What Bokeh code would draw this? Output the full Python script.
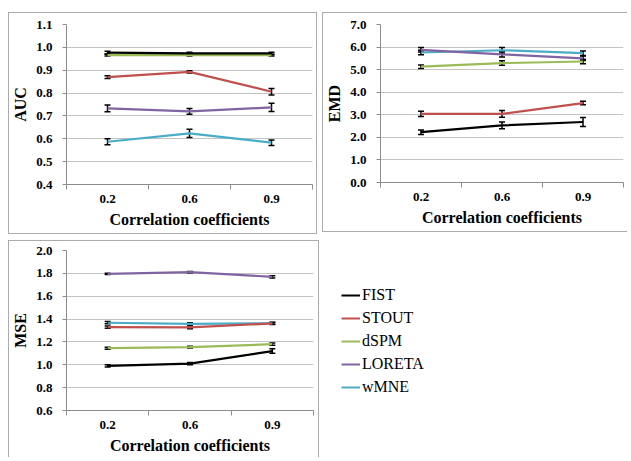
from bokeh.plotting import figure
from bokeh.layouts import column, row
from bokeh.models import (ColumnDataSource, Whisker, TeeHead, FixedTicker, Spacer,
                          PrintfTickFormatter, Legend, LegendItem, Range1d)
from bokeh.embed import file_html
from bokeh.resources import INLINE

# ---------------- data ----------------
corr = ["0.2", "0.6", "0.9"]
methods = ["FIST", "STOUT", "dSPM", "LORETA", "wMNE"]
colors = ["#000000", "#c0504d", "#9bbb59", "#8064a2", "#4bacc6"]

auc_fist = [0.977, 0.974, 0.974]
auc_stout = [0.870, 0.893, 0.806]
auc_dspm = [0.966, 0.966, 0.966]
auc_loreta = [0.733, 0.720, 0.737]
auc_wmne = [0.587, 0.624, 0.583]
auc_err_fist = [0.006, 0.005, 0.005]
auc_err_stout = [0.006, 0.005, 0.014]
auc_err_dspm = [0.004, 0.004, 0.004]
auc_err_loreta = [0.015, 0.013, 0.018]
auc_err_wmne = [0.013, 0.018, 0.012]

emd_fist = [2.23, 2.53, 2.68]
emd_stout = [3.04, 3.04, 3.52]
emd_dspm = [5.13, 5.29, 5.36]
emd_loreta = [5.88, 5.68, 5.50]
emd_wmne = [5.76, 5.86, 5.73]
emd_err_fist = [0.10, 0.15, 0.20]
emd_err_stout = [0.12, 0.15, 0.08]
emd_err_dspm = [0.08, 0.10, 0.10]
emd_err_loreta = [0.10, 0.12, 0.10]
emd_err_wmne = [0.10, 0.12, 0.10]

mse_fist = [0.990, 1.010, 1.120]
mse_stout = [1.330, 1.327, 1.362]
mse_dspm = [1.145, 1.155, 1.180]
mse_loreta = [1.795, 1.810, 1.770]
mse_wmne = [1.368, 1.358, 1.363]
mse_err_fist = [0.010, 0.010, 0.020]
mse_err_stout = [0.010, 0.012, 0.010]
mse_err_dspm = [0.008, 0.008, 0.010]
mse_err_loreta = [0.006, 0.007, 0.010]
mse_err_wmne = [0.010, 0.010, 0.008]

auc_ticks = [0.4, 0.5, 0.6, 0.7, 0.8, 0.9, 1.0, 1.1]
emd_ticks = [0.0, 1.0, 2.0, 3.0, 4.0, 5.0, 6.0, 7.0]
mse_ticks = [0.6, 0.8, 1.0, 1.2, 1.4, 1.6, 1.8, 2.0]

# ---------------- styling ----------------
SERIF = "Liberation Serif"
GRID = "#c4c4c4"
AXIS = "#8c8c8c"
BORDER = "#ababab"

xpos = [i + 0.5 for i in range(len(corr))]


def make_panel(title, ticks, series, errors, width, height, mlb, mrb, mtb, mbb, border):
    p = figure(width=width, height=height, output_backend="svg", toolbar_location=None,
               x_range=Range1d(0, len(corr)), y_range=Range1d(ticks[0], ticks[-1]),
               min_border_left=mlb, min_border_right=mrb, min_border_top=mtb,
               min_border_bottom=mbb)
    p.styles = border
    p.outline_line_color = None
    p.background_fill_color = "white"
    p.border_fill_color = "white"
    p.xgrid.visible = False
    p.ygrid.grid_line_color = GRID
    p.ygrid.grid_line_width = 1

    p.yaxis.ticker = FixedTicker(ticks=ticks)
    p.yaxis.formatter = PrintfTickFormatter(format="%.1f")
    p.xaxis.ticker = FixedTicker(ticks=xpos, minor_ticks=list(range(len(corr) + 1)))
    p.xaxis.major_label_overrides = {x: c for x, c in zip(xpos, corr)}
    for ax in (p.xaxis, p.yaxis):
        ax.axis_line_color = AXIS
        ax.major_tick_line_color = AXIS
        ax.minor_tick_line_color = AXIS
        ax.major_label_text_font = SERIF
        ax.major_label_text_font_style = "bold"
        ax.major_label_text_font_size = "13px"
        ax.major_label_text_color = "black"
        ax.axis_label_text_font = SERIF
        ax.axis_label_text_font_style = "bold"
        ax.axis_label_text_font_size = "16px"
        ax.axis_label_text_color = "black"
    p.xaxis.major_tick_out = 0
    p.xaxis.major_tick_in = 0
    p.xaxis.minor_tick_out = 5
    p.xaxis.minor_tick_in = 0
    p.xaxis.major_label_standoff = 5
    p.xaxis.axis_label = "Correlation coefficients"
    p.xaxis.axis_label_standoff = 5
    p.yaxis.major_tick_out = 4
    p.yaxis.major_tick_in = 0
    p.yaxis.minor_tick_out = 0
    p.yaxis.minor_tick_in = 0
    p.yaxis.major_label_standoff = 10
    p.yaxis.axis_label = title
    p.yaxis.axis_label_standoff = 4

    for vals, errs, col in reversed(list(zip(series, errors, colors))):
        src = ColumnDataSource(dict(x=xpos, y=vals,
                                    lo=[v - e for v, e in zip(vals, errs)],
                                    hi=[v + e for v, e in zip(vals, errs)]))
        p.line("x", "y", source=src, line_color=col, line_width=2.2)
        w = Whisker(source=src, base="x", lower="lo", upper="hi",
                    line_color="black", line_width=1.5,
                    upper_head=TeeHead(size=6, line_color="black", line_width=1.5),
                    lower_head=TeeHead(size=6, line_color="black", line_width=1.5))
        p.add_layout(w)
    return p


b_full = {"border": f"1px solid {BORDER}"}
b_no_right = {"border-top": f"1px solid {BORDER}", "border-left": f"1px solid {BORDER}",
              "border-bottom": f"1px solid {BORDER}"}
b_no_bottom = {"border-top": f"1px solid {BORDER}", "border-left": f"1px solid {BORDER}",
               "border-right": f"1px solid {BORDER}"}

p1 = make_panel("AUC", auc_ticks,
                [auc_fist, auc_stout, auc_dspm, auc_loreta, auc_wmne],
                [auc_err_fist, auc_err_stout, auc_err_dspm, auc_err_loreta, auc_err_wmne],
                309, 222, 53, 6, 11, 51, b_full)
p2 = make_panel("EMD", emd_ticks,
                [emd_fist, emd_stout, emd_dspm, emd_loreta, emd_wmne],
                [emd_err_fist, emd_err_stout, emd_err_dspm, emd_err_loreta, emd_err_wmne],
                305, 220, 52, 5, 11, 49, b_no_right)
p3 = make_panel("MSE", mse_ticks,
                [mse_fist, mse_stout, mse_dspm, mse_loreta, mse_wmne],
                [mse_err_fist, mse_err_stout, mse_err_dspm, mse_err_loreta, mse_err_wmne],
                311, 217, 52, 7, 9, 48, b_no_bottom)

# legend panel
p4 = figure(width=305, height=218, output_backend="svg", toolbar_location=None,
            x_axis_type=None, y_axis_type=None, x_range=Range1d(0, 1), y_range=Range1d(0, 1),
            min_border_left=0, min_border_top=9, min_border_right=0, min_border_bottom=48)
p4.outline_line_color = None
p4.grid.visible = False
items = []
for name, col in zip(methods, colors):
    r = p4.line(x=[-5, -4], y=[-5, -5], line_color=col, line_width=2)
    items.append(LegendItem(label=name, renderers=[r]))
leg = Legend(items=items, location=(18, 12), margin=0, padding=0,
             border_line_color=None, background_fill_alpha=0,
             glyph_width=19, glyph_height=22, label_height=22, label_standoff=2,
             spacing=1, label_text_font=SERIF, label_text_font_size="16px",
             label_text_color="black")
p4.add_layout(leg)

layout = column(Spacer(height=12),
                row(Spacer(width=8), p1, Spacer(width=5), p2, spacing=0),
                Spacer(height=6),
                row(Spacer(width=8), p3, Spacer(width=4), p4, spacing=0),
                spacing=0)

open("out.html", "w").write(file_html(layout, INLINE))
